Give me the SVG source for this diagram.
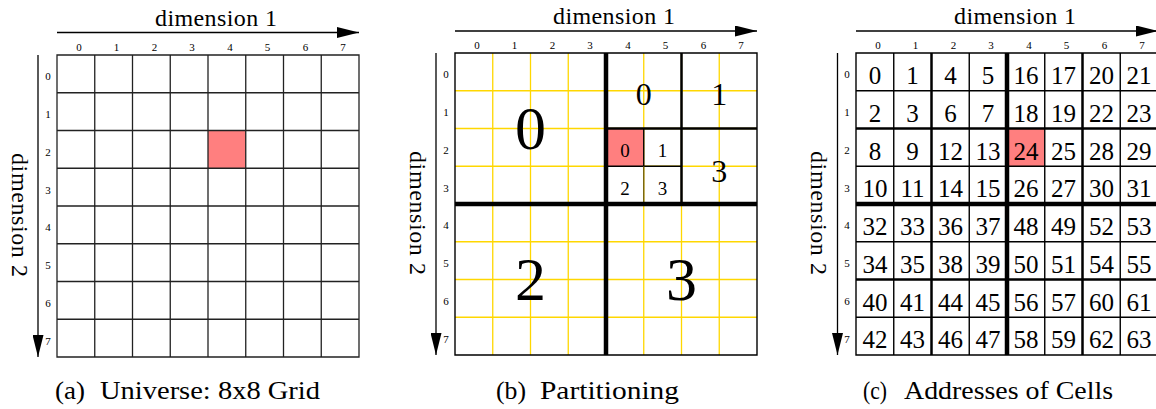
<svg xmlns="http://www.w3.org/2000/svg" width="1156" height="409" viewBox="0 0 1156 409" font-family="'Liberation Serif', 'DejaVu Serif', serif">
<style>
text{font-family:"Liberation Serif","DejaVu Serif",serif;fill:#000}
.ttl{font-size:24px;text-anchor:middle}
.tick{font-size:11px;text-anchor:middle}
.cap{font-size:25px}
.num{font-size:25px;text-anchor:middle}
.big{font-size:62px;text-anchor:middle}
.mid{font-size:32px;text-anchor:middle}
.sml{font-size:19px;text-anchor:middle}
.grid{fill:none;stroke:#222;stroke-width:1.3}
.ygrid{fill:none;stroke:#ffd700;stroke-width:1.3}
.thick{fill:none;stroke:#000;stroke-width:4.5}
.med{fill:none;stroke:#000;stroke-width:2.5}
.thin{fill:none;stroke:#000;stroke-width:1.4}
.hl{fill:#ff7f7f}
.axis{fill:none;stroke:#000;stroke-width:1.3}
</style>
<defs>
<marker id="arr" viewBox="0 0 22 11" refX="22" refY="5.5" markerWidth="22" markerHeight="11" markerUnits="userSpaceOnUse" orient="auto">
<path d="M0,0 L22,5.5 L0,11 z" fill="#000"/>
</marker>
</defs>
<rect width="1156" height="409" fill="#fff"/>

<!-- Panel A -->
<g id="panelA">
<rect class="hl" x="208" y="130.5" width="37.75" height="37.75"/>
<path class="grid" d="M57,55 H359 V357 H57 Z M94.75,55 V357 M132.5,55 V357 M170.25,55 V357 M208,55 V357 M245.75,55 V357 M283.5,55 V357 M321.25,55 V357 M57,92.75 H359 M57,130.5 H359 M57,168.25 H359 M57,206 H359 M57,243.75 H359 M57,281.5 H359 M57,319.25 H359"/>
<g class="tick">
<text class="tick" x="78.9" y="50.5">0</text><text class="tick" x="116.6" y="50.5">1</text><text class="tick" x="154.4" y="50.5">2</text><text class="tick" x="192.1" y="50.5">3</text><text class="tick" x="229.9" y="50.5">4</text><text class="tick" x="267.6" y="50.5">5</text><text class="tick" x="305.4" y="50.5">6</text><text class="tick" x="343.1" y="50.5">7</text>
<text class="tick" x="48" y="80.4">0</text><text class="tick" x="48" y="118.1">1</text><text class="tick" x="48" y="155.9">2</text><text class="tick" x="48" y="193.6">3</text><text class="tick" x="48" y="231.4">4</text><text class="tick" x="48" y="269.1">5</text><text class="tick" x="48" y="306.9">6</text><text class="tick" x="48" y="344.6">7</text>
</g>
<text class="ttl" x="216" y="25.5" textLength="122">dimension 1</text>
<text class="ttl" transform="translate(11.5,215) rotate(90)" x="0" y="0" textLength="124">dimension 2</text>
<text class="cap" x="55" y="399" textLength="30" lengthAdjust="spacingAndGlyphs">(a)</text>
<text class="cap" x="100" y="399" textLength="220" lengthAdjust="spacingAndGlyphs">Universe: 8x8 Grid</text>
</g>

<!-- Panel B -->
<g id="panelB">
<path class="ygrid" d="M492.75,53 V355 M530.5,53 V355 M568.25,53 V355 M643.75,53 V355 M681.5,53 V355 M719.25,53 V355 M455,90.75 H757 M455,128.5 H757 M455,166.25 H757 M455,241.75 H757 M455,279.5 H757 M455,317.25 H757"/>
<rect class="hl" x="606" y="128.5" width="37.75" height="37.75"/>
<path class="thin" d="M455,53 H757 V355 H455 Z"/>
<path class="thin" d="M643.75,128.5 V166.25 M606,166.25 H681.5"/>
<path d="M643.75,166.25 V204" fill="none" stroke="#6b5a10" stroke-width="1.3"/>
<path class="med" d="M681.5,53 V204 M606,128.5 H757"/>
<path class="thick" d="M606,53 V355 M455,204 H757"/>
<g>
<text class="tick" x="476.9" y="48.5">0</text><text class="tick" x="514.6" y="48.5">1</text><text class="tick" x="552.4" y="48.5">2</text><text class="tick" x="590.1" y="48.5">3</text><text class="tick" x="627.9" y="48.5">4</text><text class="tick" x="665.6" y="48.5">5</text><text class="tick" x="703.4" y="48.5">6</text><text class="tick" x="741.1" y="48.5">7</text>
<text class="tick" x="446" y="78.4">0</text><text class="tick" x="446" y="116.1">1</text><text class="tick" x="446" y="153.9">2</text><text class="tick" x="446" y="191.6">3</text><text class="tick" x="446" y="229.4">4</text><text class="tick" x="446" y="267.1">5</text><text class="tick" x="446" y="304.9">6</text><text class="tick" x="446" y="342.6">7</text>
</g>
<g>
<text class="big" x="530.5" y="149">0</text>
<text class="big" x="530.5" y="300">2</text>
<text class="big" x="681.5" y="300">3</text>
<text class="mid" x="643.75" y="105">0</text>
<text class="mid" x="719.25" y="105">1</text>
<text class="mid" x="719.25" y="182">3</text>
<text class="sml" x="624.9" y="157.3">0</text>
<text class="sml" x="662.6" y="157.3">1</text>
<text class="sml" x="624.9" y="195">2</text>
<text class="sml" x="662.6" y="195">3</text>
</g>
<text class="ttl" x="614" y="23.5" textLength="122">dimension 1</text>
<text class="ttl" transform="translate(410,213) rotate(90)" x="0" y="0" textLength="124">dimension 2</text>
<text class="cap" x="496" y="399" textLength="30" lengthAdjust="spacingAndGlyphs">(b)</text>
<text class="cap" x="540" y="399" textLength="139" lengthAdjust="spacingAndGlyphs">Partitioning</text>
</g>

<!-- Panel C -->
<g id="panelC">
<rect class="hl" x="1007" y="128.5" width="37.75" height="37.75"/>
<path class="thin" d="M856,53 H1158 V355 H856 Z M893.75,53 V355 M969.25,53 V355 M1044.75,53 V355 M1120.25,53 V355 M856,90.75 H1158 M856,166.25 H1158 M856,241.75 H1158 M856,317.25 H1158"/>
<path class="med" d="M931.5,53 V355 M1082.5,53 V355 M856,128.5 H1158 M856,279.5 H1158"/>
<path class="thick" d="M1007,53 V355 M856,204 H1158"/>
<g>
<text class="tick" x="877.9" y="48.5">0</text><text class="tick" x="915.6" y="48.5">1</text><text class="tick" x="953.4" y="48.5">2</text><text class="tick" x="991.1" y="48.5">3</text><text class="tick" x="1028.9" y="48.5">4</text><text class="tick" x="1066.6" y="48.5">5</text><text class="tick" x="1104.4" y="48.5">6</text><text class="tick" x="1142.1" y="48.5">7</text>
<text class="tick" x="847" y="78.4">0</text><text class="tick" x="847" y="116.1">1</text><text class="tick" x="847" y="153.9">2</text><text class="tick" x="847" y="191.6">3</text><text class="tick" x="847" y="229.4">4</text><text class="tick" x="847" y="267.1">5</text><text class="tick" x="847" y="304.9">6</text><text class="tick" x="847" y="342.6">7</text>
</g>
<g>
<text class="num" x="874.9" y="84">0</text><text class="num" x="912.6" y="84">1</text><text class="num" x="950.4" y="84">4</text><text class="num" x="988.1" y="84">5</text><text class="num" x="1025.9" y="84">16</text><text class="num" x="1063.6" y="84">17</text><text class="num" x="1101.4" y="84">20</text><text class="num" x="1139.1" y="84">21</text>
<text class="num" x="874.9" y="121.75">2</text><text class="num" x="912.6" y="121.75">3</text><text class="num" x="950.4" y="121.75">6</text><text class="num" x="988.1" y="121.75">7</text><text class="num" x="1025.9" y="121.75">18</text><text class="num" x="1063.6" y="121.75">19</text><text class="num" x="1101.4" y="121.75">22</text><text class="num" x="1139.1" y="121.75">23</text>
<text class="num" x="874.9" y="159.5">8</text><text class="num" x="912.6" y="159.5">9</text><text class="num" x="950.4" y="159.5">12</text><text class="num" x="988.1" y="159.5">13</text><text class="num" x="1025.9" y="159.5">24</text><text class="num" x="1063.6" y="159.5">25</text><text class="num" x="1101.4" y="159.5">28</text><text class="num" x="1139.1" y="159.5">29</text>
<text class="num" x="874.9" y="197.25">10</text><text class="num" x="912.6" y="197.25">11</text><text class="num" x="950.4" y="197.25">14</text><text class="num" x="988.1" y="197.25">15</text><text class="num" x="1025.9" y="197.25">26</text><text class="num" x="1063.6" y="197.25">27</text><text class="num" x="1101.4" y="197.25">30</text><text class="num" x="1139.1" y="197.25">31</text>
<text class="num" x="874.9" y="235">32</text><text class="num" x="912.6" y="235">33</text><text class="num" x="950.4" y="235">36</text><text class="num" x="988.1" y="235">37</text><text class="num" x="1025.9" y="235">48</text><text class="num" x="1063.6" y="235">49</text><text class="num" x="1101.4" y="235">52</text><text class="num" x="1139.1" y="235">53</text>
<text class="num" x="874.9" y="272.75">34</text><text class="num" x="912.6" y="272.75">35</text><text class="num" x="950.4" y="272.75">38</text><text class="num" x="988.1" y="272.75">39</text><text class="num" x="1025.9" y="272.75">50</text><text class="num" x="1063.6" y="272.75">51</text><text class="num" x="1101.4" y="272.75">54</text><text class="num" x="1139.1" y="272.75">55</text>
<text class="num" x="874.9" y="310.5">40</text><text class="num" x="912.6" y="310.5">41</text><text class="num" x="950.4" y="310.5">44</text><text class="num" x="988.1" y="310.5">45</text><text class="num" x="1025.9" y="310.5">56</text><text class="num" x="1063.6" y="310.5">57</text><text class="num" x="1101.4" y="310.5">60</text><text class="num" x="1139.1" y="310.5">61</text>
<text class="num" x="874.9" y="348.25">42</text><text class="num" x="912.6" y="348.25">43</text><text class="num" x="950.4" y="348.25">46</text><text class="num" x="988.1" y="348.25">47</text><text class="num" x="1025.9" y="348.25">58</text><text class="num" x="1063.6" y="348.25">59</text><text class="num" x="1101.4" y="348.25">62</text><text class="num" x="1139.1" y="348.25">63</text>
</g>
<text class="ttl" x="1015" y="23.5" textLength="122">dimension 1</text>
<text class="ttl" transform="translate(811,213) rotate(90)" x="0" y="0" textLength="124">dimension 2</text>
<text class="cap" x="863" y="399" textLength="24" lengthAdjust="spacingAndGlyphs">(c)</text>
<text class="cap" x="904" y="399" textLength="209" lengthAdjust="spacingAndGlyphs">Addresses of Cells</text>
</g>

<!-- Axis arrows -->
<g id="connectors">
<line class="axis" x1="57" y1="32.5" x2="359" y2="32.5" marker-end="url(#arr)"/>
<line class="axis" x1="38" y1="55" x2="38" y2="357" marker-end="url(#arr)"/>
<line class="axis" x1="455" y1="31" x2="757" y2="31" marker-end="url(#arr)"/>
<line class="axis" x1="436" y1="53" x2="436" y2="355" marker-end="url(#arr)"/>
<line class="axis" x1="856" y1="31" x2="1158" y2="31" marker-end="url(#arr)"/>
<line class="axis" x1="837.5" y1="53" x2="837.5" y2="355" marker-end="url(#arr)"/>
</g>
</svg>
